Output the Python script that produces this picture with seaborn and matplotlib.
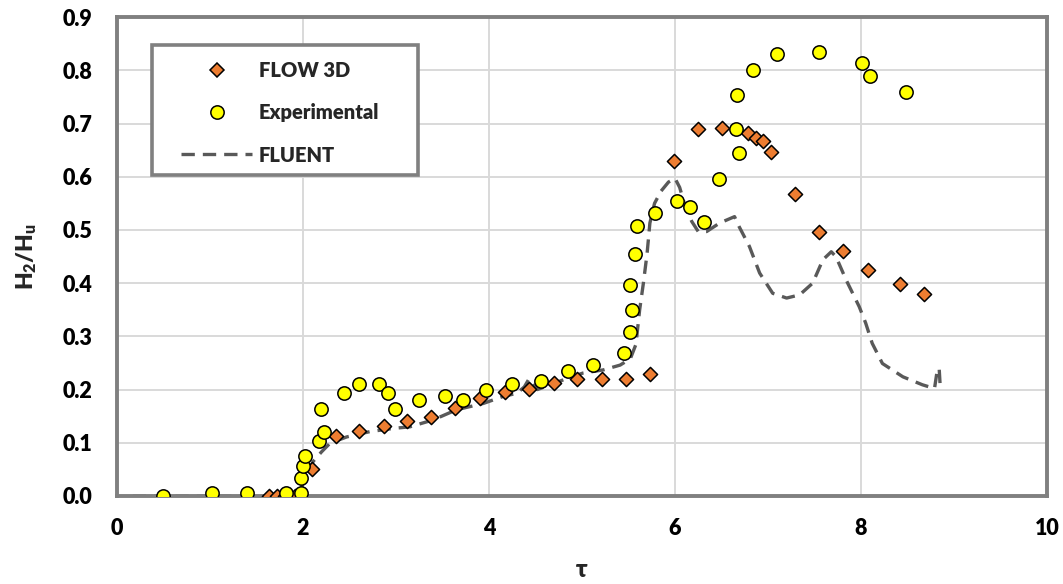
import matplotlib
matplotlib.use("Agg")
import matplotlib.pyplot as plt
import seaborn as sns
from matplotlib.lines import Line2D
from matplotlib.patches import Rectangle

# FLOW 3D simulation points
flow3d_tau = [1.63, 1.72, 1.81, 1.91, 2.10, 2.35, 2.60, 2.87, 3.12, 3.38, 3.63, 3.90,
              4.17, 4.43, 4.70, 4.95, 5.22, 5.47, 5.73, 5.99, 6.25, 6.51, 6.78, 6.87,
              6.95, 7.03, 7.29, 7.55, 7.81, 8.07, 8.42, 8.68]
flow3d_h = [0.0, 0.0, 0.0, 0.0, 0.051, 0.113, 0.123, 0.132, 0.141, 0.149, 0.166, 0.185,
            0.195, 0.201, 0.212, 0.220, 0.220, 0.220, 0.229, 0.629, 0.690, 0.691, 0.682, 0.672,
            0.667, 0.647, 0.567, 0.496, 0.460, 0.425, 0.399, 0.380]

# Experimental measurements
exp_tau = [0.49, 1.02, 1.40, 1.82, 1.98, 1.98, 2.00, 2.02, 2.17, 2.23, 2.19, 2.44,
           2.60, 2.82, 2.91, 2.99, 3.25, 3.53, 3.72, 3.97, 4.25, 4.56, 4.85, 5.12,
           5.45, 5.52, 5.54, 5.52, 5.57, 5.59, 5.78, 6.02, 6.16, 6.31, 6.47, 6.69,
           6.66, 6.67, 6.84, 7.10, 7.55, 8.01, 8.10, 8.48]
exp_h = [0.0, 0.005, 0.005, 0.005, 0.006, 0.033, 0.057, 0.075, 0.103, 0.121, 0.163, 0.193,
         0.210, 0.210, 0.193, 0.163, 0.180, 0.187, 0.180, 0.199, 0.211, 0.217, 0.234, 0.246,
         0.268, 0.309, 0.350, 0.397, 0.454, 0.508, 0.531, 0.555, 0.544, 0.514, 0.596, 0.644,
         0.690, 0.754, 0.800, 0.830, 0.835, 0.813, 0.789, 0.760]

# FLUENT simulation curve
fluent_tau = [0.17, 1.95, 2.04, 2.11, 2.20, 2.29, 2.47, 2.72, 2.97, 3.15, 3.40, 3.65,
              3.94, 4.15, 4.30, 4.38, 4.43, 4.52, 4.66, 4.84, 5.01, 5.23, 5.41, 5.52,
              5.58, 5.62, 5.66, 5.70, 5.73, 5.78, 5.85, 5.93, 6.00, 6.05, 6.11, 6.18,
              6.25, 6.34, 6.48, 6.64, 6.69, 6.80, 6.91, 7.05, 7.20, 7.34, 7.48, 7.59,
              7.68, 7.73, 7.84, 7.98, 8.05, 8.12, 8.23, 8.45, 8.66, 8.79, 8.82, 8.84, 8.85]
fluent_h = [0.0, 0.0, 0.040, 0.065, 0.083, 0.099, 0.111, 0.121, 0.127, 0.130, 0.143, 0.162,
            0.174, 0.187, 0.193, 0.205, 0.220, 0.200, 0.209, 0.221, 0.231, 0.237, 0.246, 0.258,
            0.285, 0.350, 0.400, 0.456, 0.513, 0.550, 0.573, 0.590, 0.597, 0.580, 0.544, 0.516,
            0.497, 0.497, 0.513, 0.525, 0.506, 0.469, 0.419, 0.381, 0.372, 0.378, 0.400, 0.444,
            0.459, 0.450, 0.406, 0.356, 0.325, 0.287, 0.249, 0.224, 0.209, 0.202, 0.237, 0.240, 0.210]

x_ticks = [0, 2, 4, 6, 8, 10]
y_ticks = [0.0, 0.1, 0.2, 0.3, 0.4, 0.5, 0.6, 0.7, 0.8, 0.9]
series_names = ["FLOW 3D", "Experimental", "FLUENT"]

ORANGE = "#ED7D31"
YELLOW = "#FFFF00"
LINE_GRAY = "#595959"
FRAME_GRAY = "#808080"
GRID_GRAY = "#D9D9D9"
FONT = ["Lato", "DejaVu Sans"]
WEIGHT = "heavy"

sns.set_style("white")
plt.rcParams["font.family"] = FONT
plt.rcParams["font.weight"] = WEIGHT
plt.rcParams["mathtext.fontset"] = "custom"
plt.rcParams["mathtext.rm"] = "Lato:heavy"
plt.rcParams["mathtext.bf"] = "Lato:heavy"
plt.rcParams["mathtext.it"] = "Lato:heavy"

fig = plt.figure(figsize=(10.63, 5.84), dpi=100)
ax = fig.add_axes([0.110, 0.1507, 0.875, 0.820])

sns.lineplot(x=fluent_tau, y=fluent_h, sort=False, estimator=None, ax=ax,
             color=LINE_GRAY, linewidth=2.4, linestyle=(0, (4, 2.4)), zorder=2)
sns.scatterplot(x=flow3d_tau, y=flow3d_h, ax=ax, marker="D", s=52, color=ORANGE,
                edgecolor="black", linewidth=1.1, zorder=3)
sns.scatterplot(x=exp_tau, y=exp_h, ax=ax, marker="o", s=92, color=YELLOW,
                edgecolor="black", linewidth=1.1, zorder=4)

ax.set_xlim(0, 10)
ax.set_ylim(0, 0.9)
ax.set_xticks(x_ticks)
ax.set_yticks(y_ticks)
ax.set_xticklabels([str(t) for t in x_ticks])
ax.set_yticklabels([f"{t:.1f}" for t in y_ticks])
ax.grid(True, color=GRID_GRAY, linewidth=1.4, zorder=0)
ax.set_axisbelow(True)

for side in ["left", "right", "top", "bottom"]:
    ax.spines[side].set_visible(True)
    ax.spines[side].set_color(FRAME_GRAY)
    ax.spines[side].set_linewidth(2.8)
ax.tick_params(axis="both", direction="out", length=6.5, width=2, color=FRAME_GRAY,
               labelsize=15.5, labelcolor="black")
ax.tick_params(axis="y", pad=11)
ax.tick_params(axis="x", pad=9)
for lab in ax.get_xticklabels() + ax.get_yticklabels():
    lab.set_fontweight(WEIGHT)
    lab.set_family(FONT)

ax.set_xlabel("τ", fontsize=17, fontweight=WEIGHT, labelpad=15)
ax.set_ylabel(r"$\mathbf{H_2/H_u}$", fontsize=16.5, labelpad=17)

# Legend drawn without its own frame, boxed by a separate rectangle
handles = [
    Line2D([], [], marker="D", linestyle="none", markersize=7.2, markerfacecolor=ORANGE,
           markeredgecolor="black", markeredgewidth=1.1),
    Line2D([], [], marker="o", linestyle="none", markersize=9.6, markerfacecolor=YELLOW,
           markeredgecolor="black", markeredgewidth=1.1),
    Line2D([], [], color=LINE_GRAY, linewidth=2.4, linestyle=(0, (4, 2.4))),
]
leg = ax.legend(handles, series_names, loc="upper left", bbox_to_anchor=(0.0585, 0.929),
                frameon=False, borderpad=0, handlelength=3.5, handletextpad=0.33,
                labelspacing=1.15, prop={"weight": WEIGHT, "size": 14.5, "family": FONT})
leg.set_zorder(6)
box = Rectangle((0.0376, 0.670), 0.2864, 0.272, transform=ax.transAxes, facecolor="white",
                edgecolor=FRAME_GRAY, linewidth=2.6, zorder=5)
ax.add_patch(box)

fig.savefig("out.png", dpi=100)
